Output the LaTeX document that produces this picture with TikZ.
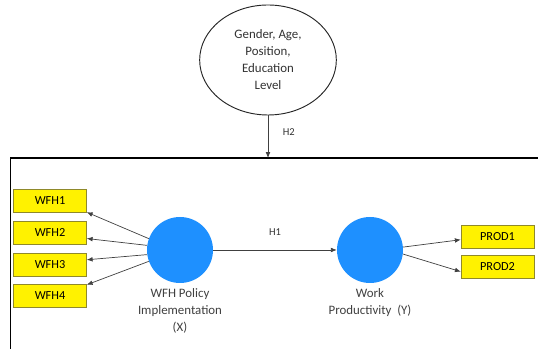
\documentclass[tikz,border=0pt]{standalone}
\usepackage{fontspec}
\setmainfont{Carlito}
\usetikzlibrary{shapes.geometric, arrows.meta, positioning}

\definecolor{latentblue}{RGB}{30,144,255}

\begin{document}
\begin{tikzpicture}[x=0.03cm, y=0.03cm,
        construct/.style={ellipse, draw=black!85, line width=0.8pt, minimum width=4.1cm, minimum height=3.3cm, align=center, text=black!80, font=\fontsize{11}{14.5}\selectfont},
        latent/.style={circle, fill=latentblue, minimum size=1.98cm, inner sep=0pt},
        indicator/.style={draw=olive!70!gray, fill=yellow, minimum width=2.19cm, minimum height=0.69cm, inner sep=0pt, font=\fontsize{10.5}{12}\selectfont},
        caption/.style={align=center, text=black!75, font=\fontsize{11}{14.5}\selectfont},
        link/.style={-{Latex[length=5pt, width=4pt]}, draw=black!75, line width=0.6pt},
        hyp/.style={text=black!80, font=\fontsize{9}{11}\selectfont}
    ]
        \useasboundingbox (0,0) rectangle (538,349);

        % outer frame, runs off the right and bottom edge
        \draw[line width=1.5pt] (10.5,-20) |- (560,191);
        \coordinate (frametop) at (268,191);

        \node[construct] (ctrl) at (268,289) {Gender, Age,\\Position,\\Education\\Level};
        \draw[link] (ctrl.south) -- node[hyp, right=9pt, pos=0.4] {H2} (frametop);

        \node[latent] (wfh) at (180,99) {};
        \node[latent] (prod) at (370,99) {};
        \node[caption, below=1pt of wfh] {WFH Policy\\Implementation\\(X)};
        \node[caption, below=1pt of prod] {Work\\Productivity \ (Y)};

        \draw[link] (wfh.east) -- node[hyp, above=9pt] {H1} (prod.west);

        % reflective indicators
        \foreach \i/\ypos/\ang/\tip in {1/148/160/-17, 2/116.3/172/-9, 3/84.7/188/7, 4/53/200/17} {
            \node[indicator] (wfh\i) at (50,\ypos) {WFH\i};
            \draw[link] (wfh.\ang) -- (wfh\i.\tip);
        }
        \foreach \i/\ypos/\ang/\tip in {1/112.5/5/185, 2/82.5/-7/188} {
            \node[indicator] (prod\i) at (497.5,\ypos) {PROD\i};
            \draw[link] (prod.\ang) -- (prod\i.\tip);
        }
    \end{tikzpicture}
\end{document}
